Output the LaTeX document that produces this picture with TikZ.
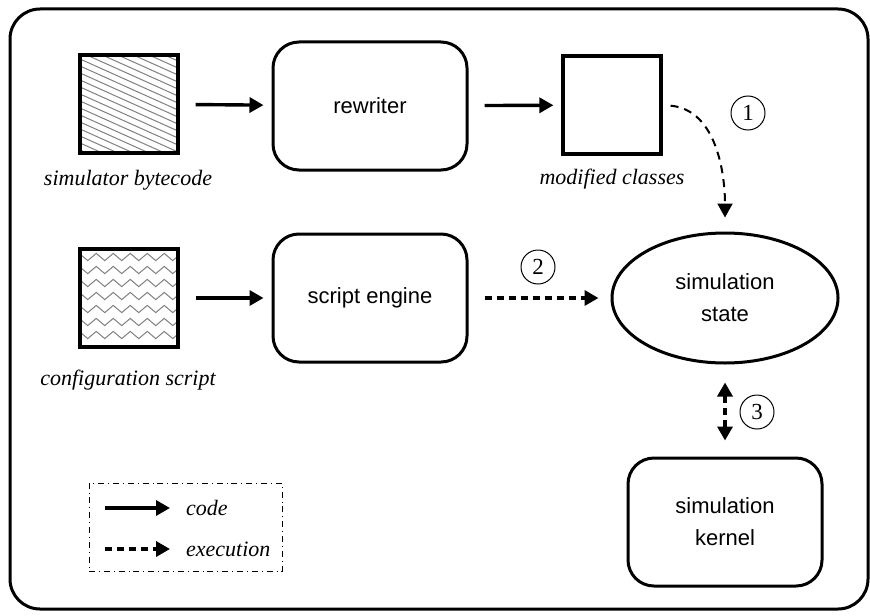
\documentclass[tikz,border=0pt]{standalone}
\usepackage{fontspec}
\setmainfont{Liberation Serif}
\setsansfont{Liberation Sans}
\usetikzlibrary{arrows.meta,shapes.geometric,decorations.pathmorphing}

\begin{document}
\begin{tikzpicture}[x=0.5pt,y=-0.5pt]
    \tikzstyle{box}=[draw,line width=1.5pt,rounded corners=13pt,minimum width=97pt,minimum height=64pt,
      font=\sffamily\fontsize{11}{16}\selectfont,align=center]
    \tikzstyle{file}=[draw,line width=1.6pt,minimum size=49pt,inner sep=0pt]
    \tikzstyle{lbl}=[font=\itshape\fontsize{11}{13}\selectfont]
    \tikzstyle{num}=[circle,draw,line width=0.5pt,inner sep=0pt,minimum size=17pt,font=\fontsize{11.5}{13}\selectfont]
    \tikzstyle{code}=[line width=1.7pt,-{Triangle[length=7pt,width=7.5pt]}]
    \tikzstyle{exec}=[code,dash pattern=on 3.5pt off 2.5pt]
    \useasboundingbox (0,0) rectangle (870,615);
    \draw[line width=1.5pt,rounded corners=15pt] (10,9) rectangle (868,609);
    % input patterns
    \begin{scope}
      \clip (80,55) rectangle (178,153);
      \foreach \k in {0,...,21} \draw[gray,line width=0.5pt] (80,10+\k*7) -- ++(98,44);
    \end{scope}
    \begin{scope}
      \clip (80,249) rectangle (178,347);
      \foreach \k in {0,...,6} \draw[gray,line width=0.5pt,decorate,
        decoration={zigzag,segment length=8.5pt,amplitude=1.8pt}] (75,257+\k*13) -- (185,257+\k*13);
    \end{scope}
    \node[file] at (129,104) (bc) {};
    \node[lbl] at (128,180) (bclbl) {simulator bytecode};
    \node[file] at (129,298) (cs) {};
    \node[lbl] at (128,380) (cslbl) {configuration script};
    \node[box] at (370,106) (rw) {rewriter};
    \node[box] at (370,298) (se) {script engine};
    \node[file] at (612,105) (mc) {};
    \node[lbl] at (612,179) (mclbl) {modified classes};
    \node[ellipse,draw,line width=1.5pt,minimum width=113pt,minimum height=65pt,
      font=\sffamily\fontsize{11}{16}\selectfont,align=center] at (725,298) (st) {simulation\\state};
    \node[box] at (725,522) (kn) {simulation\\kernel};
    \node[num] at (748,113) (n1) {1};
    \node[num] at (538,267) (n2) {2};
    \node[num] at (757,412) (n3) {3};
    \foreach \i/\j in {bc/rw,rw/mc,cs/se}
      \draw[code,shorten <=8pt,shorten >=4pt] (\i) -- (\j);
    \draw[exec,shorten <=8pt,shorten >=6pt] (se) -- (st);
    \draw[exec,line width=1pt,dash pattern=on 4pt off 3pt,shorten <=4pt,shorten >=7pt]
      (mc.east) to[out=-5,in=90] (st.north);
    \draw[exec,{Triangle[length=7pt,width=7.5pt]}-{Triangle[length=7pt,width=7.5pt]},
      shorten <=9pt,shorten >=8pt] (st) -- (kn);
    % legend
    \node[draw,dash dot,line width=0.4pt,minimum width=96.5pt,minimum height=44pt] at (185.5,527) (lg) {};
    \coordinate (lc1) at (105,508);
    \coordinate (lc2) at (105,549);
    \node[lbl,anchor=west] at (179,508) (lcode) {code};
    \node[lbl,anchor=west] at (179,549) (lexec) {execution};
    \draw[code,shorten >=4.5pt] (lc1) -- (lcode);
    \draw[exec,shorten >=4.5pt] (lc2) -- (lexec);
\end{tikzpicture}
\end{document}
